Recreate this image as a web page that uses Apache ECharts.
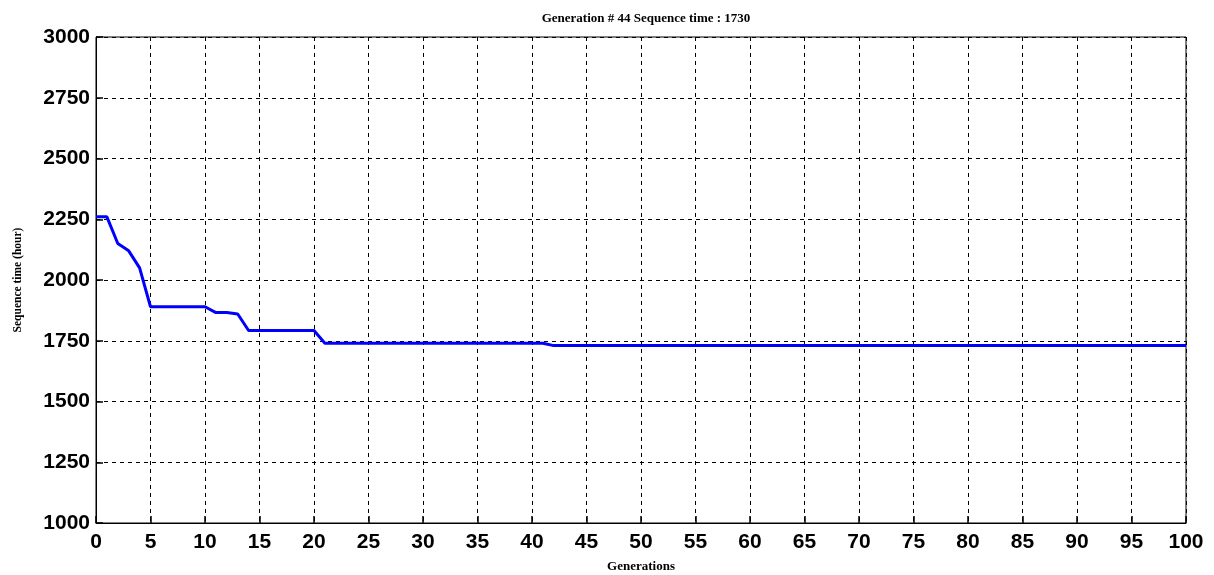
<!DOCTYPE html>
<html>
<head>
<meta charset="utf-8">
<script src="https://cdn.jsdelivr.net/npm/echarts@6/dist/echarts.min.js"></script>
<style>html,body{margin:0;padding:0;background:#fff;}#c{width:1214px;height:575px;}</style>
</head>
<body>
<div id="c"></div>
<script>
const generations = [0,1,2,3,4,5,6,7,8,9,10,11,12,13,14,15,16,17,18,19,20,21,22,23,24,25,26,27,28,29,30,31,32,33,34,35,36,37,38,39,40,41,42,43,44,45,46,47,48,49,50,51,52,53,54,55,56,57,58,59,60,61,62,63,64,65,66,67,68,69,70,71,72,73,74,75,76,77,78,79,80,81,82,83,84,85,86,87,88,89,90,91,92,93,94,95,96,97,98,99,100];
const sequenceTime = [2260,2260,2150,2120,2050,1890,1890,1890,1890,1890,1890,1866,1866,1860,1792,1792,1792,1792,1792,1792,1792,1740,1740,1740,1740,1740,1740,1740,1740,1740,1740,1740,1740,1740,1740,1740,1740,1740,1740,1740,1740,1740,1730,1730,1730,1730,1730,1730,1730,1730,1730,1730,1730,1730,1730,1730,1730,1730,1730,1730,1730,1730,1730,1730,1730,1730,1730,1730,1730,1730,1730,1730,1730,1730,1730,1730,1730,1730,1730,1730,1730,1730,1730,1730,1730,1730,1730,1730,1730,1730,1730,1730,1730,1730,1730,1730,1730,1730,1730,1730,1730];
const titleText = "Generation # 44 Sequence time : 1730";
const xName = "Generations";
const yName = "Sequence time (hour)";

const chart = echarts.init(document.getElementById('c'), null, {renderer:'canvas'});
const pts = generations.map((g,i)=>[g, sequenceTime[i]]);
const tickFont = {fontFamily:'Liberation Sans, Arial, sans-serif', fontWeight:'bold', fontSize:21, color:'#000'};
chart.setOption({
  animation:false,
  backgroundColor:'#fff',
  title:{text:titleText, left:641, top:7, textAlign:'center',
    textStyle:{fontFamily:'Liberation Serif, Times New Roman, serif', fontWeight:'bold', fontSize:13, color:'#000'}},
  grid:{left:96, right:28, top:37, bottom:52, containLabel:false, outerBoundsMode:'none',
    show:true, borderColor:'#000', borderWidth:1, backgroundColor:'#fff'},
  xAxis:{type:'value', min:0, max:100, interval:5,
    name:xName, nameLocation:'middle', nameGap:37,
    nameTextStyle:{fontFamily:'Liberation Serif, Times New Roman, serif', fontWeight:'bold', fontSize:13, color:'#000'},
    axisLine:{show:true, lineStyle:{color:'#000', width:1}},
    axisTick:{show:true, inside:true, length:7, lineStyle:{color:'#000', width:1.5}},
    axisLabel:Object.assign({margin:9, formatter:v=>String(v)}, tickFont),
    splitLine:{show:true, lineStyle:{color:'#000', type:[4,4], width:1}}},
  yAxis:{type:'value', min:1000, max:3000, interval:250,
    name:yName, nameLocation:'middle', nameGap:72,
    nameTextStyle:{fontFamily:'Liberation Serif, Times New Roman, serif', fontWeight:'bold', fontSize:11.5, color:'#000'},
    axisLine:{show:true, lineStyle:{color:'#000', width:1}},
    axisTick:{show:true, inside:true, length:7, lineStyle:{color:'#000', width:1.5}},
    axisLabel:Object.assign({margin:6, formatter:v=>String(v)}, tickFont),
    splitLine:{show:true, lineStyle:{color:'#000', type:[4,4], width:1}}},
  series:[{type:'line', data:pts, showSymbol:false, symbol:'none',
    lineStyle:{color:'#0000ff', width:3}, itemStyle:{color:'#0000ff'}}]
});
</script>
</body>
</html>
